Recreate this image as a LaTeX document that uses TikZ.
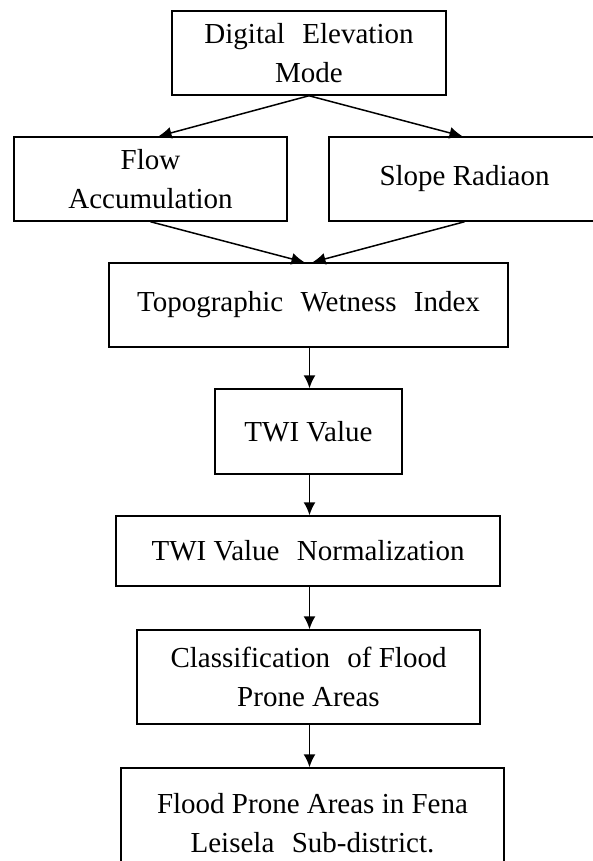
\documentclass[tikz,border=0pt]{standalone}
\usepackage{fontspec}
\setmainfont{Liberation Serif}
\usetikzlibrary{arrows.meta}
\newcommand{\wsp}{\hspace{0.6em}}
\begin{document}
\begin{tikzpicture}[x=1pt,y=1pt,
  box/.style={draw,line width=1.5pt,align=center,inner sep=0pt,
    font=\fontsize{29}{38.5}\selectfont},
  arr/.style={-{Latex[length=13pt,width=12pt]},line width=1.5pt}]
  \useasboundingbox (0,0) rectangle (593,-861);
  \clip (0,0) rectangle (593,-861);
  \node[box,minimum width=274pt,minimum height=84pt] (dem) at (309,-53) {Digital\wsp Elevation\\Mode};
  \node[box,minimum width=273pt,minimum height=84pt] (flow) at (150.5,-179) {Flow\\Accumulation};
  \node[box,minimum width=271pt,minimum height=84pt] (slope) at (464.5,-179) {Slope Radiaon};
  \node[box,minimum width=399pt,minimum height=84pt] (twi) at (308.5,-305) {Topographic\wsp Wetness\wsp Index};
  \node[box,minimum width=187pt,minimum height=85pt] (twiv) at (308.5,-431.5) {TWI Value};
  \node[box,minimum width=384pt,minimum height=70pt] (norm) at (308,-551) {TWI Value\wsp Normalization};
  \node[box,minimum width=343pt,minimum height=94pt] (class) at (308.5,-677) {Classification\wsp of Flood\\Prone Areas};
  \node[box,minimum width=383pt,minimum height=110pt] (final) at (312.5,-823) {Flood Prone Areas in Fena\\Leisela\wsp Sub-district.};
  \coordinate (axis) at (309.5,0);
  \draw[arr] (dem.south) -- ([xshift=8pt]flow.north);
  \draw[arr] (dem.south) -- ([xshift=-2pt]slope.north);
  \draw[arr] (flow.south) -- ([xshift=-4pt]twi.north);
  \draw[arr] (slope.south) -- ([xshift=4pt]twi.north);
  \draw[arr] (axis |- twi.south) -- (axis |- twiv.north);
  \draw[arr] (axis |- twiv.south) -- (axis |- norm.north);
  \draw[arr] (axis |- norm.south) -- (axis |- class.north);
  \draw[arr] (axis |- class.south) -- (axis |- final.north);
\end{tikzpicture}
\end{document}
